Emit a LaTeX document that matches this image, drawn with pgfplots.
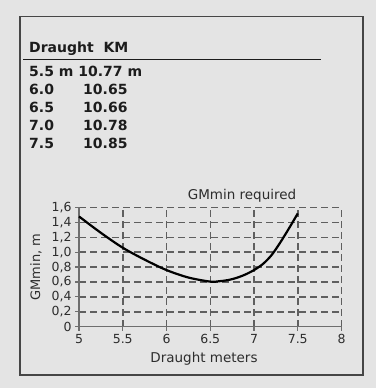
\documentclass[border=0pt]{standalone}
\usepackage{fontspec}
\setmainfont{DejaVu Sans}
\usepackage{pgfplots}
\pgfplotsset{compat=1.18}
\definecolor{bgcol}{RGB}{228,228,228}
\definecolor{framecol}{RGB}{70,70,70}
\definecolor{gridcol}{RGB}{95,95,95}
\definecolor{axiscol}{RGB}{110,110,110}
\definecolor{txtcol}{RGB}{28,28,28}
\definecolor{plottxt}{RGB}{45,45,45}
\begin{document}
\begin{tikzpicture}[x=1pt,y=1pt]
\useasboundingbox (0,0) rectangle (376,388);
\fill[bgcol] (0,0) rectangle (376,388);
\draw[framecol, line width=1.5pt] (20,13) rectangle (363,371.5);
% table
\begin{scope}[every node/.style={anchor=base west, inner sep=0pt, text=txtcol, font=\fontsize{14}{16}\selectfont\bfseries}]
\node at (29,335) {Draught\ \ KM};
\draw[txtcol, line width=1.2pt] (23,328.7) -- (321,328.7);
\node at (29,311) {5.5 m 10.77 m};
\node at (29,293) {6.0};  \node at (83,293) {10.65};
\node at (29,275) {6.5};  \node at (83,275) {10.66};
\node at (29,257) {7.0};  \node at (83,257) {10.78};
\node at (29,239) {7.5};  \node at (83,239) {10.85};
\end{scope}
\node[anchor=base, inner sep=0pt, text=plottxt, font=\fontsize{13.5}{15}\selectfont] at (242,188) {GMmin required};
\node[anchor=base, inner sep=0pt, text=plottxt, font=\fontsize{13.5}{15}\selectfont] at (204,25.7) {Draught meters};
\node[anchor=base, rotate=90, inner sep=0pt, text=plottxt, font=\fontsize{13}{15}\selectfont] at (40,121) {GMmin, m};
\begin{axis}[
  at={(79pt,61.3pt)}, anchor=south west,
  scale only axis, width=262.5pt, height=119.2pt,
  xmin=5, xmax=8, ymin=0, ymax=1.6,
  axis x line=bottom, axis y line=left,
  axis line style={-, axiscol, line width=1.5pt},
  xtick={5,5.5,6,6.5,7,7.5,8},
  ytick={0,0.2,0.4,0.6,0.8,1.0,1.2,1.4,1.6},
  yticklabels={0,{0,2},{0,4},{0,6},{0,8},{1,0},{1,2},{1,4},{1,6}},
  xticklabels={5,5.5,6,6.5,7,7.5,8},
  tick align=outside, major tick length=4pt,
  tick style={axiscol, line width=1.2pt},
  grid=major,
  major grid style={gridcol, line width=1.5pt, dash pattern=on 6.7pt off 4.3pt},
  ticklabel style={font=\fontsize{12.5}{14}\selectfont, text=plottxt},
  clip=false,
]
\addplot[black, line width=2.2pt, smooth, tension=0.5] coordinates {
 (5,1.48) (5.25,1.26) (5.5,1.06) (5.75,0.9) (6,0.76) (6.25,0.66)
 (6.5,0.605) (6.6,0.61) (6.7,0.625) (6.8,0.655) (6.9,0.70) (7,0.76)
 (7.1,0.84) (7.2,0.96) (7.3,1.13) (7.4,1.32) (7.5,1.52)
};
\end{axis}
\end{tikzpicture}
\end{document}
